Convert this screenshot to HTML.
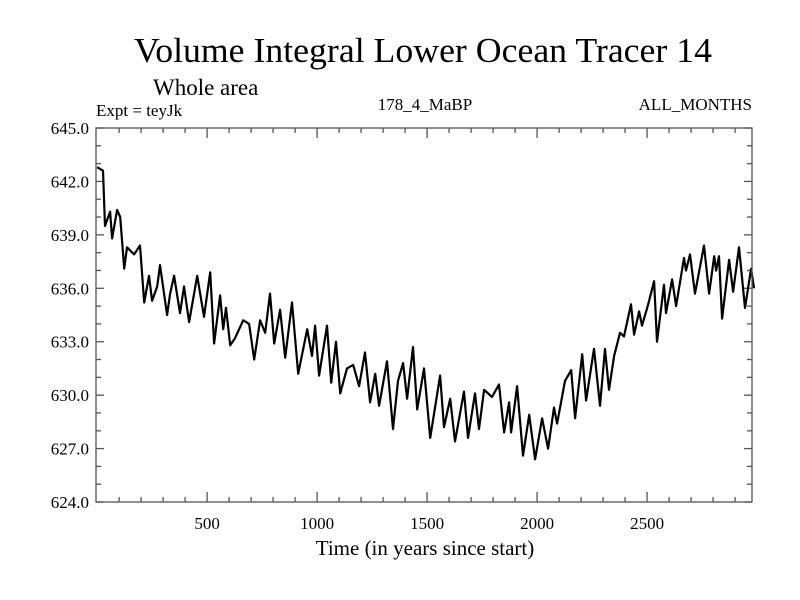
<!DOCTYPE html>
<html><head><meta charset="utf-8"><style>
body{margin:0;background:#fff}
svg{display:block;font-family:"Liberation Serif",serif}
</style></head><body>
<svg id="chart" width="800" height="600" viewBox="0 0 800 600" xmlns="http://www.w3.org/2000/svg">
<rect width="800" height="600" fill="#fff"/>
<text x="423" y="62" text-anchor="middle" font-size="35" textLength="578" lengthAdjust="spacingAndGlyphs">Volume Integral Lower Ocean Tracer 14</text>
<text x="153" y="95" font-size="23">Whole area</text>
<text x="96" y="116" font-size="17">Expt = teyJk</text>
<text x="425" y="110" text-anchor="middle" font-size="17">178_4_MaBP</text>
<text x="752" y="110" text-anchor="end" font-size="17">ALL_MONTHS</text>
<text x="425" y="555" text-anchor="middle" font-size="21">Time (in years since start)</text>
<g id="axes"></g>
<path id="series" fill="none" stroke="#000" stroke-width="2.2" stroke-linejoin="round"/>
<rect x="96" y="128" width="656" height="374" fill="none" stroke="#555" stroke-width="1.3"/>
</svg>
<script>
const years=[0,27,36,59,68,91,105,123,136,168,195,214,236,250,273,286,318,332,350,377,395,418,455,486,514,532,559,573,586,605,627,664,691,714,741,764,786,805,832,855,886,914,955,977,991,1009,1045,1064,1086,1105,1136,1164,1191,1218,1241,1264,1282,1318,1345,1368,1391,1409,1436,1455,1486,1514,1559,1577,1605,1627,1668,1686,1718,1736,1759,1795,1827,1850,1873,1882,1909,1936,1964,1991,2023,2050,2077,2091,2127,2155,2173,2205,2223,2259,2286,2309,2327,2350,2377,2395,2427,2441,2464,2477,2505,2532,2545,2577,2586,2614,2632,2668,2677,2695,2718,2759,2782,2805,2814,2827,2841,2873,2891,2918,2945,2973,2986];
const values=[642.8,642.6,639.5,640.3,638.8,640.4,640.0,637.1,638.3,637.9,638.4,635.2,636.7,635.3,636.1,637.3,634.5,635.7,636.7,634.6,636.1,634.1,636.7,634.4,636.9,632.9,635.6,633.7,634.9,632.8,633.2,634.2,634.0,632.0,634.2,633.5,635.7,632.9,634.8,632.1,635.2,631.2,633.7,632.2,633.9,631.1,633.9,630.7,633.0,630.1,631.5,631.7,630.5,632.4,629.6,631.2,629.4,631.9,628.1,630.8,631.8,629.8,632.7,629.2,631.5,627.6,631.1,628.2,629.8,627.4,630.2,627.6,630.1,628.1,630.3,629.9,630.6,627.9,629.6,627.9,630.5,626.6,628.9,626.4,628.7,627.0,629.3,628.4,630.8,631.4,628.7,632.3,629.7,632.6,629.4,632.6,630.3,632.2,633.5,633.3,635.1,633.4,634.7,633.9,635.1,636.4,633.0,636.2,634.6,636.5,635.0,637.7,637.0,637.9,635.7,638.4,635.7,637.8,637.0,637.8,634.3,637.6,635.8,638.3,634.9,637.1,636.0];
const yTicks=[624,627,630,633,636,639,642,645];
const xTicks=[500,1000,1500,2000,2500];
const L=96,R=752,T=128,B=502,X0=-5,X1=2977,Y0=624,Y1=645;
const sx=v=>L+(v-X0)/(X1-X0)*(R-L);
const sy=v=>B-(v-Y0)/(Y1-Y0)*(B-T);
const NS='http://www.w3.org/2000/svg';
const ax=document.getElementById('axes');
function line(x1,y1,x2,y2,name){const e=document.createElementNS(NS,'line');
e.setAttribute('x1',x1);e.setAttribute('y1',y1);e.setAttribute('x2',x2);e.setAttribute('y2',y2);
e.setAttribute('stroke','#555');e.setAttribute('stroke-width','1.3');


ax.appendChild(e);}
function text(x,y,s,anchor,name){const e=document.createElementNS(NS,'text');
e.setAttribute('x',x);e.setAttribute('y',y);e.setAttribute('text-anchor',anchor);e.setAttribute('font-size','17');e.textContent=s;


ax.appendChild(e);}
for(let v=Y0;v<=Y1;v++){const y=sy(v);const maj=(v-Y0)%3===0;const len=maj?8:5;
line(L,y,L+len,y,'y-tick');line(R,y,R-len,y,'y-tick-right');}
yTicks.forEach(v=>text(L-7,sy(v)+6,v.toFixed(1),'end','y-tick-label'));
for(let v=100;v<X1;v+=100){const x=sx(v);const maj=v%500===0;const len=maj?10:5;
line(x,B,x,B-len,'x-tick');line(x,T,x,T+len,'x-tick-top');}
xTicks.forEach(v=>text(sx(v),529,String(v),'middle','x-tick-label'));
let d='';years.forEach((yr,i)=>{d+=(i?'L':'M')+sx(yr).toFixed(1)+' '+sy(values[i]).toFixed(1);});
document.getElementById('series').setAttribute('d',d);
</script>
</body></html>
